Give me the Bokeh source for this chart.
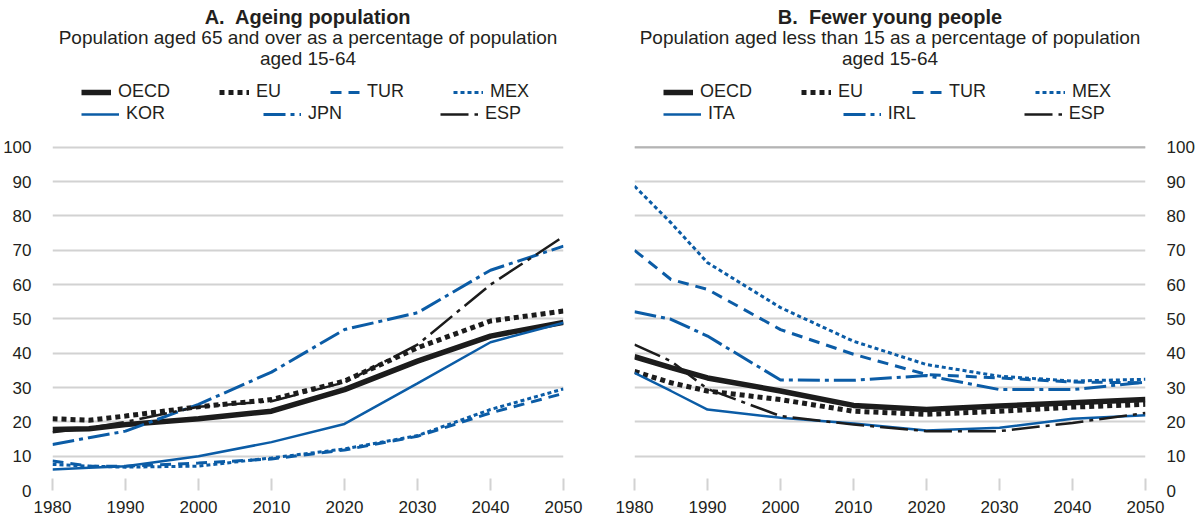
from bokeh.plotting import figure
from bokeh.models import FixedTicker, Legend, LegendItem, Label, Span, Range1d
from bokeh.layouts import row
from bokeh.embed import file_html
from bokeh.resources import INLINE

years = [1980, 1985, 1990, 2000, 2010, 2020, 2030, 2040, 2050]
x_ticks = [1980, 1990, 2000, 2010, 2020, 2030, 2040, 2050]
y_ticks = [0, 10, 20, 30, 40, 50, 60, 70, 80, 90, 100]

# Panel A: population 65+ as % of population 15-64
a_oecd = [17.8, 18.0, 19.2, 20.9, 23.1, 29.4, 37.7, 45.0, 49.0]
a_eu   = [20.9, 20.5, 21.7, 24.4, 26.5, 31.9, 41.6, 49.4, 52.3]
a_tur  = [8.6, 7.1, 7.1, 8.0, 9.2, 11.8, 15.8, 22.6, 28.3]
a_mex  = [7.6, 7.1, 6.8, 7.1, 9.5, 12.1, 16.0, 23.6, 29.6]
a_kor  = [6.1, 6.6, 7.1, 10.0, 14.1, 19.4, 31.2, 43.2, 48.9]
a_jpn  = [13.4, 15.4, 17.3, 25.1, 34.5, 46.9, 51.8, 64.2, 71.2]
a_esp  = [17.0, 18.2, 20.0, 24.4, 26.0, 31.5, 42.5, 60.0, 74.0]

# Panel B: population under 15 as % of population 15-64
b_oecd = [39.0, 35.8, 32.8, 29.0, 24.8, 23.6, 24.6, 25.6, 26.5]
b_eu   = [34.7, 31.4, 29.0, 26.5, 23.1, 22.2, 23.1, 24.3, 25.1]
b_tur  = [70.0, 61.5, 58.6, 46.9, 39.7, 33.8, 32.8, 31.6, 31.4]
b_mex  = [88.7, 78.0, 66.4, 53.3, 43.5, 36.7, 33.3, 31.9, 32.4]
b_ita  = [34.3, 29.0, 23.6, 21.2, 19.5, 17.5, 18.3, 20.9, 21.9]
b_irl  = [52.1, 49.9, 45.0, 32.2, 32.1, 33.5, 29.4, 29.4, 31.6]
b_esp  = [42.5, 37.7, 29.6, 21.7, 19.2, 17.3, 17.3, 19.7, 22.6]

BLUE = "#0B5CA6"
BLACK = "#1c1c1c"
GRID = "#d2d2d2"
TXT = "#231f20"
FONT = "Liberation Sans"

styles = {
    "OECD": dict(line_color=BLACK, line_width=5.5),
    "EU":   dict(line_color=BLACK, line_width=5, line_dash="5 4"),
    "TUR":  dict(line_color=BLUE, line_width=3, line_dash="11 7"),
    "MEX":  dict(line_color=BLUE, line_width=3, line_dash="4 3"),
    "KOR":  dict(line_color=BLUE, line_width=2.5),
    "ITA":  dict(line_color=BLUE, line_width=2.5),
    "JPN":  dict(line_color=BLUE, line_width=3, line_dash="22 5 4 5"),
    "IRL":  dict(line_color=BLUE, line_width=3, line_dash="22 5 4 5"),
    "ESP":  dict(line_color=BLACK, line_width=2.5, line_dash="28 6 4 6"),
}

Y_END = 142.8


def make_panel(title, sub1, sub2, series, row1, row2, side, mbl, mbr, spacing2):
    p = figure(frame_width=511, frame_height=490, output_backend="svg",
               toolbar_location=None, x_range=Range1d(1980, 2050),
               y_range=Range1d(0, Y_END), y_axis_location=side,
               min_border_left=mbl, min_border_right=mbr,
               min_border_top=0, min_border_bottom=30)
    p.outline_line_color = None
    p.background_fill_color = "white"
    p.border_fill_color = "white"

    p.xgrid.visible = False
    p.ygrid.ticker = FixedTicker(ticks=y_ticks)
    p.ygrid.grid_line_color = GRID
    p.ygrid.grid_line_width = 2

    xa = p.xaxis[0]
    xa.ticker = FixedTicker(ticks=x_ticks)
    xa.axis_line_color = None
    xa.major_tick_in = 12
    xa.major_tick_out = 0
    xa.major_tick_line_color = GRID
    xa.major_tick_line_width = 2
    xa.minor_tick_line_color = None
    xa.major_label_text_font = FONT
    xa.major_label_text_font_size = "17px"
    xa.major_label_text_color = TXT
    xa.major_label_standoff = 10

    ya = p.yaxis[0]
    ya.ticker = FixedTicker(ticks=y_ticks)
    ya.axis_line_color = None
    ya.major_tick_line_color = None
    ya.minor_tick_line_color = None
    ya.major_label_text_font = FONT
    ya.major_label_text_font_size = "17px"
    ya.major_label_text_color = TXT
    ya.major_label_text_baseline = "alphabetic"
    ya.major_label_standoff = 15

    renderers = {}
    for name, vals in series:
        renderers[name] = p.line(years, vals, **styles[name])

    for txt, yv, size, style in [(title, 137.9, "20px", "bold"),
                                 (sub1, 131.9, "19px", "normal"),
                                 (sub2, 125.8, "19px", "normal")]:
        p.add_layout(Label(x=2015, y=yv, text=txt, text_align="center",
                           text_baseline="alphabetic", text_font=FONT,
                           text_font_size=size, text_font_style=style,
                           text_color=TXT))

    def make_legend(names, y, gw, spacing):
        lg = Legend(items=[LegendItem(label=n, renderers=[renderers[n]]) for n in names],
                    orientation="horizontal", location=(29, y),
                    glyph_width=gw, glyph_height=20, label_height=20,
                    label_standoff=7, spacing=spacing, padding=0, margin=0,
                    border_line_color=None, background_fill_alpha=0,
                    label_text_font=FONT, label_text_font_size="18px",
                    label_text_color=TXT, click_policy="none")
        p.add_layout(lg)

    make_legend(row1, 388, 30, 49)
    make_legend(row2, 366, 38, spacing2)
    return p


left = make_panel("A.\u00a0 Ageing population",
                  "Population aged 65 and over as a percentage of population",
                  "aged 15-64",
                  [("OECD", a_oecd), ("EU", a_eu), ("TUR", a_tur), ("MEX", a_mex),
                   ("KOR", a_kor), ("JPN", a_jpn), ("ESP", a_esp)],
                  ["OECD", "EU", "TUR", "MEX"], ["KOR", "JPN", "ESP"],
                  "left", 45, 36, 98)

right = make_panel("B.\u00a0 Fewer young people",
                   "Population aged less than 15 as a percentage of population",
                   "aged 15-64",
                   [("OECD", b_oecd), ("EU", b_eu), ("TUR", b_tur), ("MEX", b_mex),
                    ("ITA", b_ita), ("IRL", b_irl), ("ESP", b_esp)],
                   ["OECD", "EU", "TUR", "MEX"], ["ITA", "IRL", "ESP"],
                   "right", 35, 44, 108)
right.add_layout(Span(location=100, dimension="width", line_color="#b4b4b4", line_width=2))

layout = row(left, right)
open("out.html", "w").write(file_html(layout, INLINE))
